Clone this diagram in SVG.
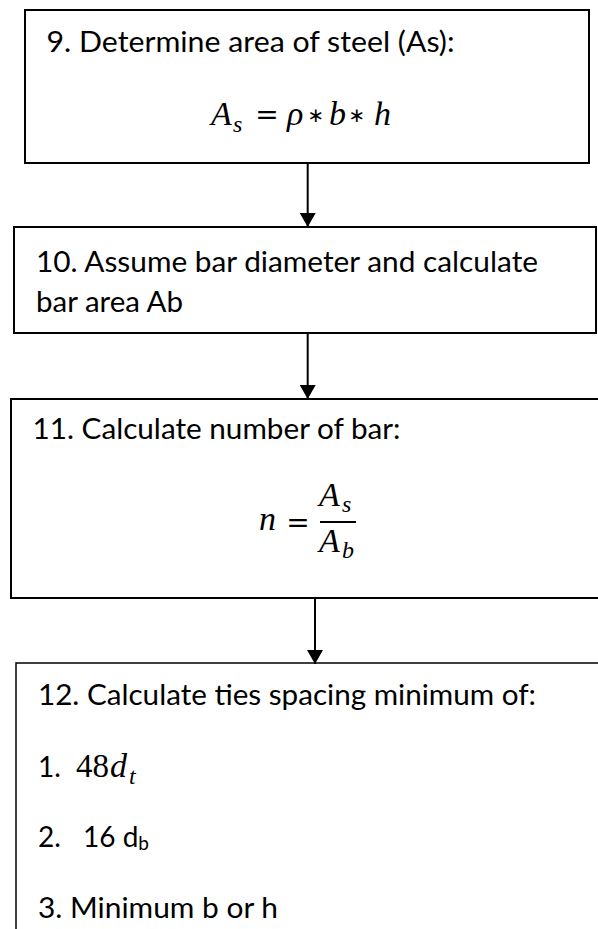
<svg xmlns="http://www.w3.org/2000/svg" width="598" height="929" viewBox="0 0 598 929">
<style>
.box{fill:#fff;stroke:#000;stroke-width:2}
.t{font-family:Lato,"Open Sans","Liberation Sans",sans-serif;font-size:28px;fill:#000}
.m{font-family:"Liberation Serif","DejaVu Serif",serif;font-size:33px;fill:#000}
.op{font-family:"DejaVu Sans","Liberation Sans",sans-serif;font-size:28px;fill:#000;text-anchor:middle}
.st{font-family:"DejaVu Sans","Liberation Sans",sans-serif;font-size:20px;fill:#000;text-anchor:middle}
.mi{font-family:"Liberation Serif","DejaVu Serif",serif;font-size:34px;font-style:italic;fill:#000}
.sub{font-family:"Liberation Serif","DejaVu Serif",serif;font-size:24px;font-style:italic;fill:#000}
.conn{stroke:#000;stroke-width:2;fill:none;marker-end:url(#ah)}
</style>
<defs>
<marker id="ah" viewBox="0 0 14 16" refX="14" refY="8" markerWidth="14" markerHeight="16" markerUnits="userSpaceOnUse" orient="auto">
<path d="M0,0 L14,8 L0,16 Z" fill="#000"/>
</marker>
</defs>
<rect width="598" height="929" fill="#fff"/>
<g id="node9">
<rect class="box" x="25" y="10" width="564" height="153"/>
<text class="t" x="46.5" y="52" textLength="408" lengthAdjust="spacingAndGlyphs">9. Determine area of steel (As):</text>
<text class="mi" x="211" y="125">A</text>
<text class="sub" x="233" y="132">s</text>
<text class="op" x="267" y="124">=</text>
<text class="mi" x="287" y="125">ρ</text>
<text class="st" x="316" y="122">∗</text>
<text class="mi" x="329" y="125">b</text>
<text class="st" x="357" y="122">∗</text>
<text class="mi" x="374" y="125">h</text>
</g>
<g id="node10">
<rect class="box" x="14" y="227" width="582" height="106"/>
<text class="t" x="36" y="272" textLength="502" lengthAdjust="spacingAndGlyphs">10. Assume bar diameter and calculate</text>
<text class="t" x="36" y="312" textLength="147" lengthAdjust="spacingAndGlyphs">bar area Ab</text>
</g>
<g id="node11">
<rect class="box" x="11" y="399" width="600" height="199"/>
<text class="t" x="32.5" y="439" textLength="368" lengthAdjust="spacingAndGlyphs">11. Calculate number of bar:</text>
<text class="mi" x="259" y="530">n</text>
<text class="op" x="298" y="532">=</text>
<text class="mi" x="319" y="506">A</text>
<text class="sub" x="342" y="512">s</text>
<line x1="320" y1="522" x2="356" y2="522" stroke="#000" stroke-width="2"/>
<text class="mi" x="319" y="552">A</text>
<text class="sub" x="342" y="558">b</text>
</g>
<g id="node12">
<rect class="box" x="16" y="663" width="600" height="300" style="stroke-width:1.5"/>
<text class="t" x="38" y="705" textLength="498" lengthAdjust="spacingAndGlyphs">12. Calculate ties spacing minimum of:</text>
<text class="t" x="38" y="777">1.</text>
<text class="m" x="76" y="777">48</text>
<text class="mi" x="110" y="777">d</text>
<text class="sub" x="129" y="784">t</text>
<text class="t" x="38" y="847">2.</text>
<text class="t" x="83" y="847">16 d<tspan font-size="19" dy="3">b</tspan></text>
<text class="t" x="38" y="918" textLength="240" lengthAdjust="spacingAndGlyphs">3. Minimum b or h</text>
</g>
<g id="connectors">
<line class="conn" x1="307.7" y1="163" x2="307.7" y2="227"/>
<line class="conn" x1="307.7" y1="333" x2="307.7" y2="399"/>
<line class="conn" x1="315" y1="598" x2="315" y2="664"/>
</g>
</svg>
